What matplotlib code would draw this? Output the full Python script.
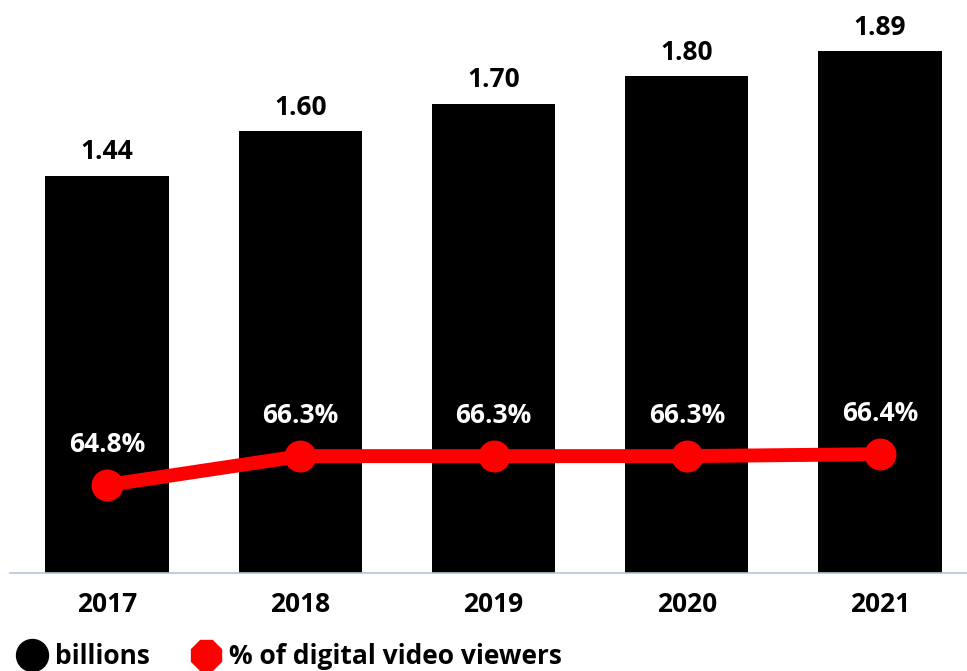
import matplotlib
matplotlib.use("Agg")
import matplotlib.pyplot as plt
from matplotlib.lines import Line2D

years = ["2017", "2018", "2019", "2020", "2021"]
billions = [1.44, 1.60, 1.70, 1.80, 1.89]
pct_viewers = [64.8, 66.3, 66.3, 66.3, 66.4]

plt.rcParams['font.family'] = ['Open Sans', 'DejaVu Sans']

fig = plt.figure(figsize=(9.67, 6.71), dpi=100)
ax = fig.add_axes([0.0103, 0.146, 0.9897, 0.854])
x = list(range(len(years)))

ax.bar(x, billions, width=0.637, color="black", zorder=2)
for xi, v in zip(x, billions):
    ax.annotate(f"{v:.2f}", (xi, v), xytext=(0, 12), textcoords="offset points",
                ha="center", va="baseline", fontsize=19, fontweight="bold")

ax.set_xlim(-0.502, 4.45)
ax.set_ylim(0, 2.076)
ax.set_yticks([])
ax.set_xticks(x)
ax.set_xticklabels(years, fontsize=19, fontweight="bold")
ax.tick_params(axis="x", length=0, pad=13)
for s in ["top", "right", "left"]:
    ax.spines[s].set_visible(False)
ax.spines["bottom"].set_color("#b4c4de")
ax.spines["bottom"].set_linewidth(1.2)

ax2 = ax.twinx()
ax2.plot(x, pct_viewers, color="#ff0000", linewidth=10, marker="o",
         markersize=22, solid_capstyle="round", zorder=3)
for xi, v in zip(x, pct_viewers):
    ax2.annotate(f"{v:.1f}%", (xi, v), xytext=(0, 24), textcoords="offset points",
                 ha="center", va="baseline", fontsize=19, fontweight="bold", color="white")
ax2.set_ylim(60.25, 89.9)
ax2.set_yticks([])
for s in ["top", "right", "left", "bottom"]:
    ax2.spines[s].set_visible(False)

handles = [
    Line2D([], [], linestyle="none", marker="o", markersize=23, color="black"),
    Line2D([], [], linestyle="none", marker="8", markersize=23, color="#ff0000"),
]
fig.legend(handles, ["billions", "% of digital video viewers"], loc="lower left",
           bbox_to_anchor=(0.0, -0.022), ncol=2, frameon=False,
           prop={"size": 19, "weight": "bold"}, handletextpad=0.3,
           columnspacing=1.5, handlelength=1.2, borderaxespad=0.2)

fig.savefig("out.png", dpi=100)
